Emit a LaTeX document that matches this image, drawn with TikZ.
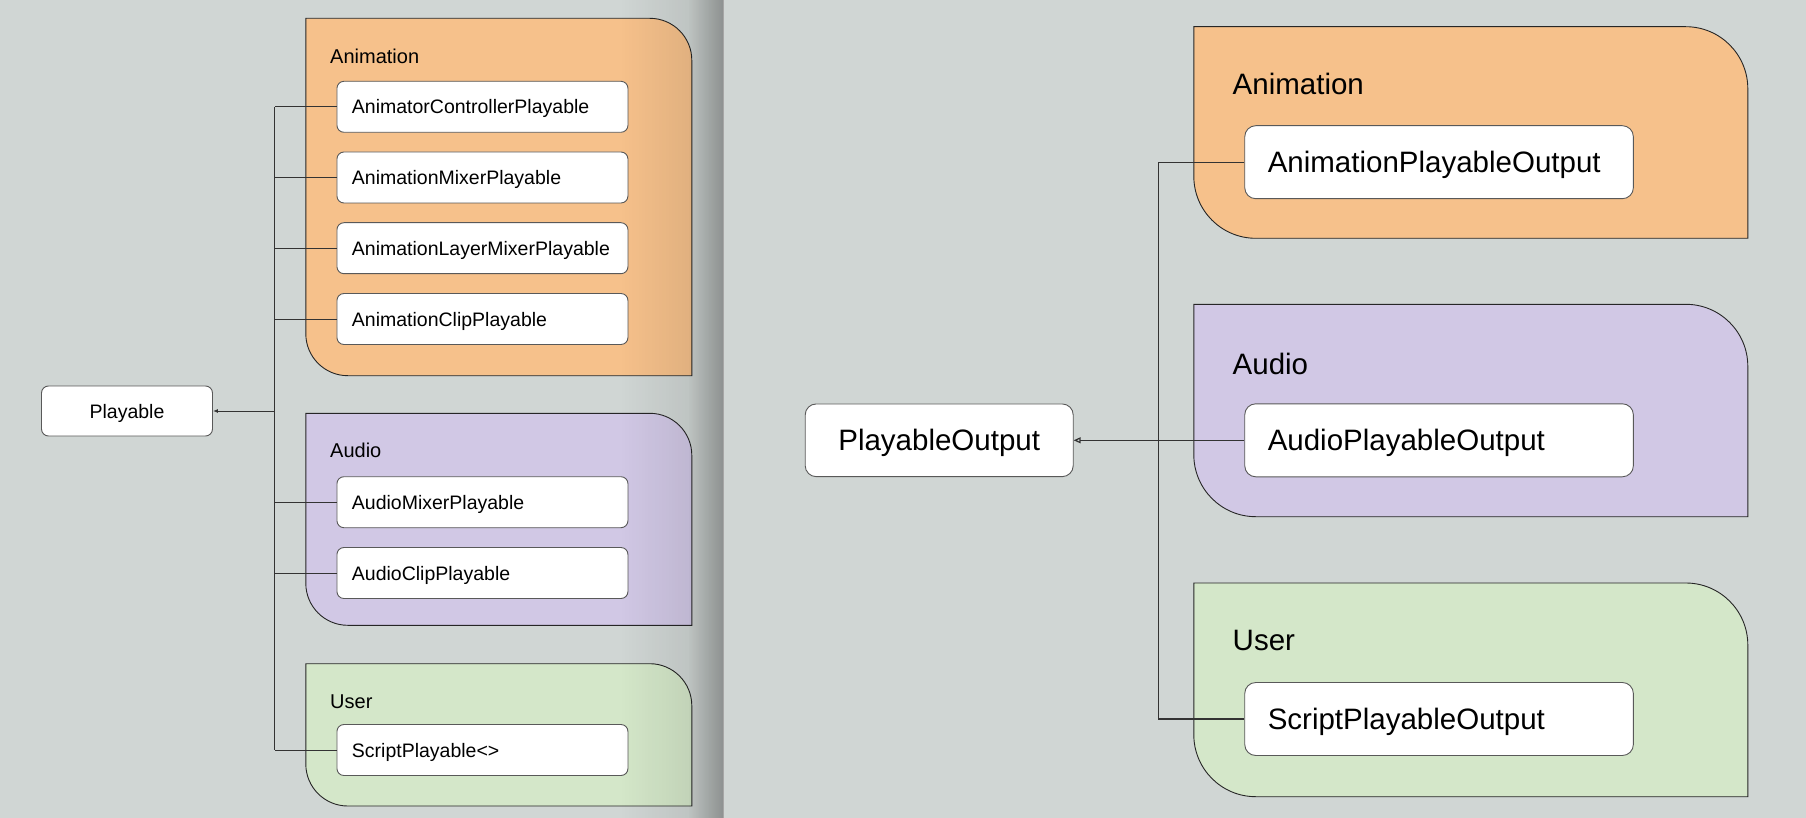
\documentclass[tikz,border=0pt]{standalone}
\usepackage{fontspec}
\setmainfont{Liberation Sans}
\usetikzlibrary{arrows.meta,fadings}

\definecolor{bggray}{RGB}{208,214,212}
\definecolor{animorange}{RGB}{246,193,139}
\definecolor{audiopurple}{RGB}{209,200,229}
\definecolor{usergreen}{RGB}{212,231,201}

\tikzfading[name=panelshade, left color=transparent!100, right color=transparent!0]

\tikzset{
  grp/.style={draw=black!85, line width=0.9pt},
  box/.style={draw=black!65, fill=white, rounded corners=7pt, line width=0.9pt, inner sep=0pt, text height=16pt, text depth=2pt, font=\fontsize{19.5}{23}\selectfont},
  cls/.style={box, anchor=west, inner xsep=15pt, text width=261pt, align=left, minimum height=51pt},
  bigbox/.style={box, rounded corners=11pt, text height=24pt, text depth=3pt, font=\fontsize{29.5}{35}\selectfont},
  bigcls/.style={bigbox, anchor=west, inner xsep=23pt, text width=342.6pt, align=left, minimum height=73pt},
  head/.style={anchor=base west, inner sep=0pt, font=\fontsize{20}{24}\selectfont},
  bighead/.style={head, font=\fontsize{29.5}{35}\selectfont},
  wire/.style={draw=black!80, line width=1pt},
  bigwire/.style={draw=black!80, line width=1.2pt}
}

\newcommand{\grpbox}[6]{%
  \draw[grp, fill=#6] (#1,#2) -- ({#3-#5},#2) arc[start angle=-90, end angle=0, radius=#5]
    -- (#3,#4) -- ({#1+#5},#4) arc[start angle=90, end angle=180, radius=#5] -- cycle;}

\begin{document}
\begin{tikzpicture}[x=1pt, y=-1pt]
\useasboundingbox (0,0) rectangle (1806,818);
\fill[bggray] (0,0) rectangle (1806,818);

\grpbox{305.8}{18.3}{691.8}{375.7}{42}{animorange}
\grpbox{305.8}{413.3}{691.8}{625.3}{42}{audiopurple}
\grpbox{305.8}{663.7}{691.8}{806}{42}{usergreen}

\node[head] (hanim) at (330,63.3) {Animation};
\node[head] (haud) at (330,457.7) {Audio};
\node[head] (huser) at (330,708.3) {User};

\node[box, minimum width=171pt, minimum height=50pt] (pl) at (127,411) {Playable};
\node[cls] (acp) at (336.5,106.8) {AnimatorControllerPlayable};
\node[cls] (amp) at (336.5,177.5) {AnimationMixerPlayable};
\node[cls] (almp) at (336.5,248.2) {AnimationLayerMixerPlayable};
\node[cls] (aclp) at (336.5,319) {AnimationClipPlayable};
\node[cls] (aump) at (336.5,502.2) {AudioMixerPlayable};
\node[cls] (auclp) at (336.5,573) {AudioClipPlayable};
\node[cls] (scp) at (336.5,750) {ScriptPlayable<>};

\coordinate (lt) at (274.7,0);
\foreach \n in {acp,amp,almp,aclp,aump,auclp,scp}
  \draw[wire] (\n.west) -- (\n.west -| lt);
\draw[wire] (acp.west -| lt) -- (scp.west -| lt);
\draw[wire, -{Latex[length=5pt,width=4pt]}] (pl.east -| lt) -- (pl.east);

\fill[black, fill opacity=0.12, path fading=panelshade] (620,0) rectangle (723,818);
\fill[black, fill opacity=0.22, path fading=panelshade] (688,0) rectangle (723,818);
\fill[bggray] (723,0) rectangle (1806,818);
\draw[black!35, line width=1.5pt] (723.5,0) -- (723.5,818);

\grpbox{1193.8}{26.7}{1747.8}{238.3}{62}{animorange}
\grpbox{1193.8}{304.3}{1747.8}{516.7}{62}{audiopurple}
\grpbox{1193.8}{583}{1747.8}{796.7}{62}{usergreen}

\node[bighead] (hanimo) at (1232.5,95) {Animation};
\node[bighead] (haudo) at (1232.5,374) {Audio};
\node[bighead] (husero) at (1232.5,650.7) {User};

\node[bigbox, minimum width=268pt, minimum height=72.7pt] (plo) at (939.2,440.3) {PlayableOutput};
\node[bigcls] (apo) at (1244.3,162.2) {AnimationPlayableOutput};
\node[bigcls] (aupo) at (1244.3,440.3) {AudioPlayableOutput};
\node[bigcls] (spo) at (1244.3,719) {ScriptPlayableOutput};

\coordinate (rt) at (1158.4,0);
\draw[bigwire] (apo.west) -- (apo.west -| rt) -- (spo.west -| rt) -- (spo.west);
\draw[bigwire, -{Triangle[open,length=7pt,width=6pt]}] (aupo.west) -- (plo.east);

\end{tikzpicture}
\end{document}
